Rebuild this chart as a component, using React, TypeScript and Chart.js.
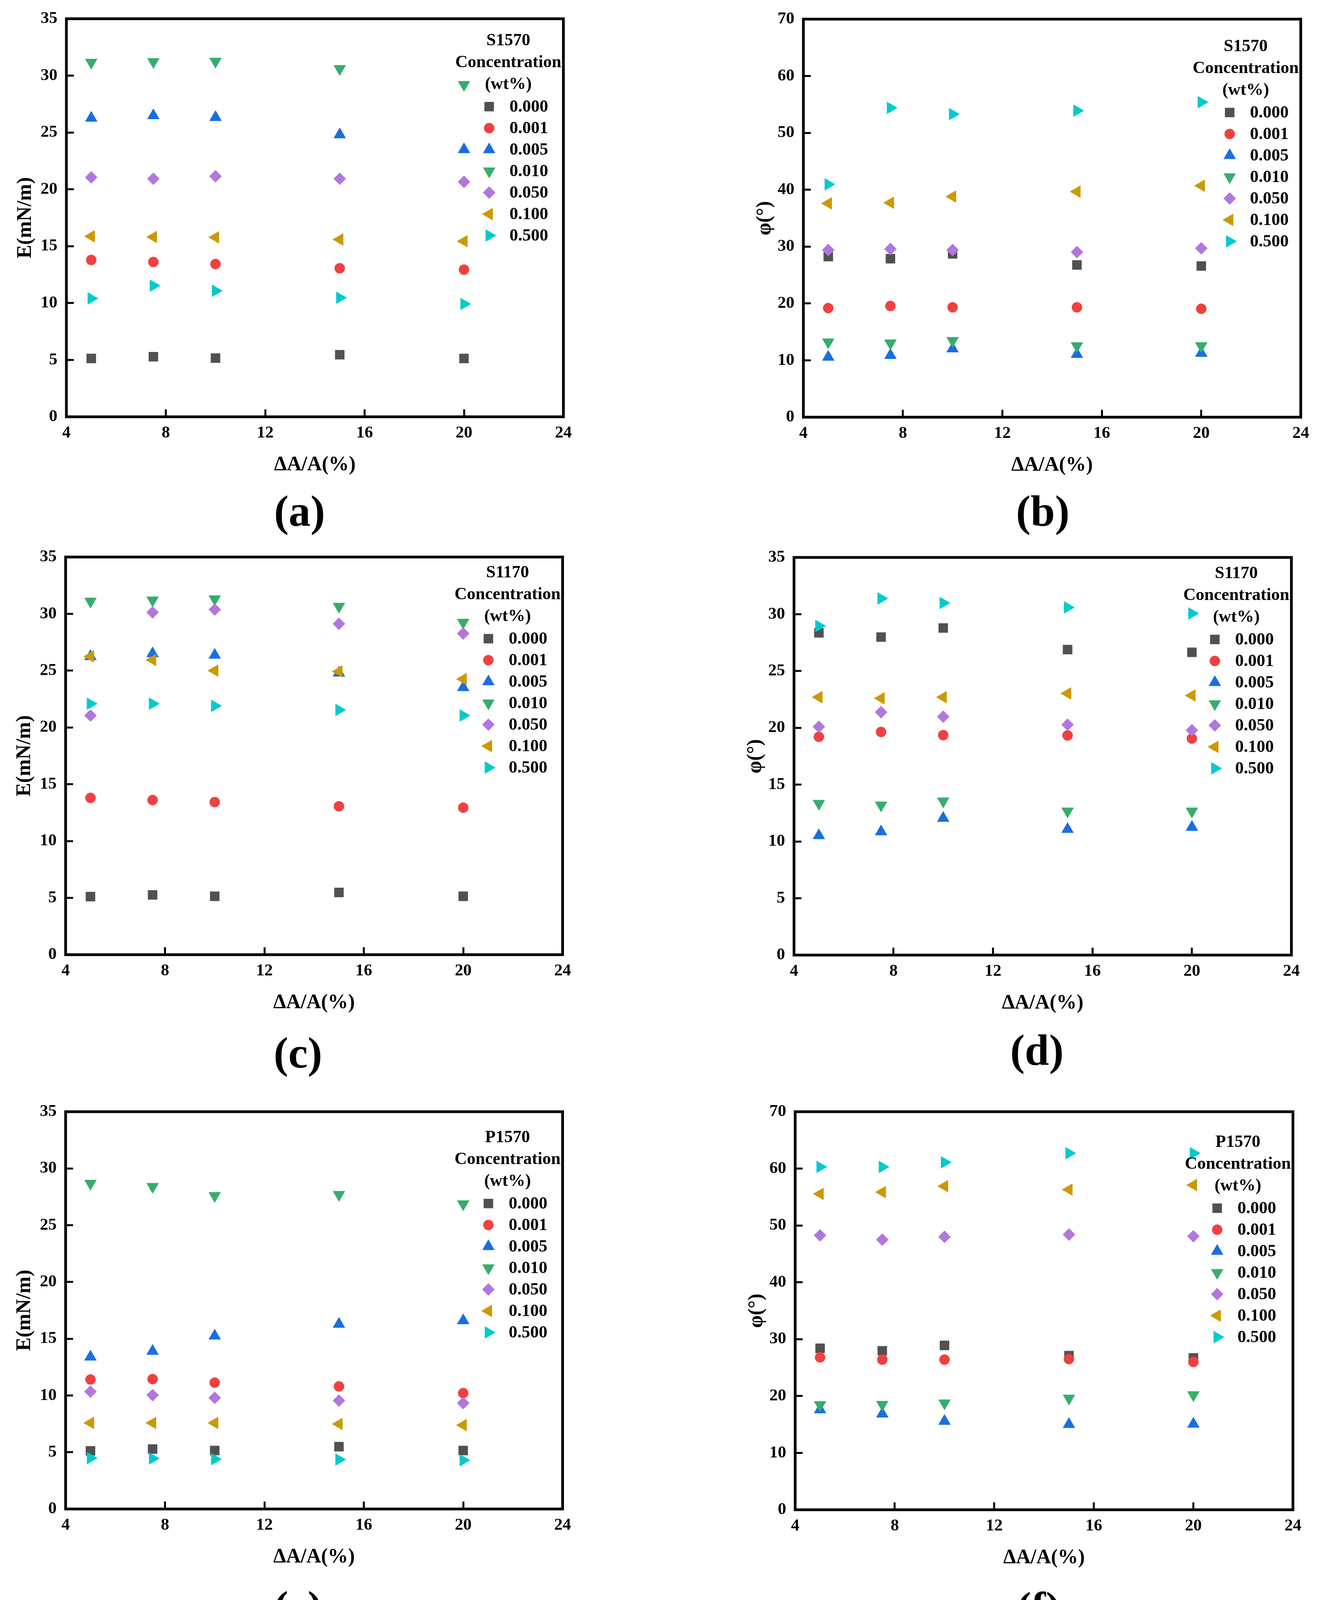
import React, { useEffect, useRef } from "react";
import Chart from "chart.js/auto";
import { drawPoint } from "chart.js/helpers";

// strain amplitude (x) shared by every panel
const strainX = [5, 7.5, 10, 15, 20];
const concLabels = ["0.000", "0.001", "0.005", "0.010", "0.050", "0.100", "0.500"];

// rows follow concLabels order
const s1570Modulus = [
  [5.13, 5.28, 5.16, 5.46, 5.13],
  [13.79, 13.61, 13.43, 13.06, 12.94],
  [26.27, 26.49, 26.33, 24.81, 23.5],
  [31.16, 31.22, 31.25, 30.6, 29.2],
  [21.05, 20.93, 21.15, 20.93, 20.66],
  [15.87, 15.81, 15.78, 15.59, 15.44],
  [10.41, 11.53, 11.08, 10.47, 9.92],
];
const s1570Phase = [
  [28.24, 27.87, 28.73, 26.77, 26.59],
  [19.19, 19.56, 19.32, 19.32, 19.07],
  [10.57, 10.88, 12.04, 11.06, 11.25],
  [13.2, 13.02, 13.45, 12.53, 12.53],
  [29.4, 29.58, 29.4, 29.03, 29.7],
  [37.6, 37.71, 38.8, 39.67, 40.7],
  [40.95, 54.4, 53.3, 53.9, 55.4],
];
const s1170Modulus = [
  [5.11, 5.26, 5.14, 5.48, 5.14],
  [13.8, 13.61, 13.43, 13.06, 12.94],
  [26.25, 26.5, 26.37, 24.8, 23.52],
  [31.1, 31.2, 31.3, 30.65, 29.24],
  [21.05, 30.13, 30.38, 29.12, 28.27],
  [26.25, 25.94, 25.0, 24.93, 24.26],
  [22.09, 22.09, 21.9, 21.54, 21.05],
];
const s1170Phase = [
  [28.36, 27.99, 28.79, 26.89, 26.65],
  [19.21, 19.64, 19.36, 19.33, 19.06],
  [10.52, 10.86, 12.05, 11.07, 11.26],
  [13.34, 13.19, 13.55, 12.66, 12.66],
  [20.1, 21.38, 20.98, 20.28, 19.79],
  [22.7, 22.6, 22.7, 23.03, 22.85],
  [28.97, 31.39, 30.99, 30.6, 30.07],
];
const p1570Modulus = [
  [5.12, 5.28, 5.15, 5.49, 5.15],
  [11.41, 11.44, 11.13, 10.8, 10.21],
  [13.4, 13.9, 15.25, 16.29, 16.6],
  [28.68, 28.4, 27.6, 27.7, 26.87],
  [10.34, 10.03, 9.79, 9.55, 9.33],
  [7.58, 7.58, 7.58, 7.49, 7.39],
  [4.48, 4.45, 4.39, 4.36, 4.29],
];
const p1570Phase = [
  [28.4, 27.96, 28.9, 27.1, 26.7],
  [26.8, 26.4, 26.4, 26.5, 26.0],
  [17.6, 16.86, 15.57, 15.02, 15.08],
  [18.45, 18.5, 18.76, 19.6, 20.2],
  [48.25, 47.5, 48.0, 48.4, 48.1],
  [55.55, 55.86, 56.9, 56.3, 57.1],
  [60.3, 60.3, 61.1, 62.7, 62.7],
];

const seriesColors = ["#515151", "#F14040", "#1A6FDF", "#37AD6B", "#B177DE", "#CC9900", "#00CBCC"];
const seriesMarkers = [
  { style: "rect", radius: 16.5, rotation: 0 },
  { style: "circle", radius: 13, rotation: 0 },
  { style: "triangle", radius: 17.5, rotation: 0 },
  { style: "triangle", radius: 17.5, rotation: 180 },
  { style: "rectRot", radius: 15.5, rotation: 0 },
  { style: "triangle", radius: 17.5, rotation: -90 },
  { style: "triangle", radius: 17.5, rotation: 90 },
];

const FONT = "'Liberation Serif', 'Times New Roman', serif";

interface PanelSpec {
  left: number;
  right: number;
  top: number;
  bottom: number;
  values: number[][];
  yMax: number;
  yStep: number;
  yTitle: string;
  yWidth: number;
  sample: string;
  legendRow0: number;
  legendDx: number;
  tag: string;
  tagX: number;
  tagY: number;
}

const panels: PanelSpec[] = [
  { left: 170, right: 1459, top: 48, bottom: 1067, values: s1570Modulus, yMax: 35, yStep: 5, yTitle: "E(mN/m)", yWidth: 136, sample: "S1570", legendRow0: 225, legendDx: 0, tag: "(a)", tagX: 767, tagY: 1308 },
  { left: 2057, right: 3347, top: 49, bottom: 1068, values: s1570Phase, yMax: 70, yStep: 10, yTitle: "φ(°)", yWidth: 130, sample: "S1570", legendRow0: 239, legendDx: 8, tag: "(b)", tagX: 2670, tagY: 1308 },
  { left: 168, right: 1457, top: 1426, bottom: 2444, values: s1170Modulus, yMax: 35, yStep: 5, yTitle: "E(mN/m)", yWidth: 136, sample: "S1170", legendRow0: 209, legendDx: 0, tag: "(c)", tagX: 763, tagY: 2695 },
  { left: 2033, right: 3323, top: 1427, bottom: 2445, values: s1170Phase, yMax: 35, yStep: 5, yTitle: "φ(°)", yWidth: 130, sample: "S1170", legendRow0: 210, legendDx: -6, tag: "(d)", tagX: 2655, tagY: 2688 },
  { left: 168, right: 1457, top: 2846, bottom: 3863, values: p1570Modulus, yMax: 35, yStep: 5, yTitle: "E(mN/m)", yWidth: 136, sample: "P1570", legendRow0: 235, legendDx: 0, tag: "(e)", tagX: 763, tagY: 4113 },
  { left: 2036, right: 3327, top: 2846, bottom: 3865, values: p1570Phase, yMax: 70, yStep: 10, yTitle: "φ(°)", yWidth: 130, sample: "P1570", legendRow0: 247, legendDx: -4, tag: "(f)", tagX: 2659, tagY: 4115 },
];

// top padding has to cover the y tick label overflow (half label + tick padding)
const PAD_L = 20;
const PAD_T = 75;
const PAD_R = 40;
const PAD_B = 20;
const X_AXIS_H = 155;

// frame around the plot
const framePlugin = {
  id: "frameBox",
  afterDatasetsDraw(chart: any) {
    const { ctx, chartArea } = chart;
    ctx.save();
    ctx.strokeStyle = "#000";
    ctx.lineWidth = 7;
    ctx.strokeRect(chartArea.left, chartArea.top, chartArea.right - chartArea.left, chartArea.bottom - chartArea.top);
    ctx.restore();
  },
};

// legend drawn inside the plot, top right
const legendPlugin = {
  id: "concLegend",
  afterDatasetsDraw(chart: any, _args: any, opts: any) {
    const { ctx, chartArea } = chart;
    const right = chartArea.right;
    const row0 = chartArea.top + opts.row0;
    ctx.save();
    ctx.fillStyle = "#000";
    ctx.font = `bold 44px ${FONT}`;
    ctx.textBaseline = "middle";
    ctx.textAlign = "center";
    [opts.sample, "Concentration", "(wt%)"].forEach((line: string, k: number) => {
      ctx.fillText(line, right - 141, row0 - 168 + k * 56);
    });
    ctx.textAlign = "left";
    chart.data.datasets.forEach((ds: any, i: number) => {
      const y = row0 + i * 55;
      const m = seriesMarkers[i];
      ctx.fillStyle = seriesColors[i];
      ctx.strokeStyle = seriesColors[i];
      ctx.lineWidth = 1;
      drawPoint(ctx, { pointStyle: m.style as any, radius: m.radius, rotation: m.rotation, borderWidth: 1 }, right - 190 + opts.dx, y);
      ctx.fillStyle = "#000";
      ctx.fillText(ds.label, right - 138 + opts.dx, y + 2);
    });
    ctx.restore();
  },
};

const Panel: React.FC<{ spec: PanelSpec }> = ({ spec }) => {
  const canvasRef = useRef<HTMLCanvasElement | null>(null);
  const chartRef = useRef<Chart | null>(null);

  const cx = spec.left - PAD_L - spec.yWidth;
  const cy = spec.top - PAD_T;
  const cw = spec.right + PAD_R - cx;
  const ch = spec.bottom + X_AXIS_H + PAD_B - cy;

  useEffect(() => {
    const ctx = canvasRef.current?.getContext("2d");
    if (!ctx) return;
    if (chartRef.current) chartRef.current.destroy();

    const tickFont = { family: FONT, weight: "bold" as const, size: 43 };
    const titleFont = { family: FONT, weight: "bold" as const, size: 52 };

    chartRef.current = new Chart(ctx, {
      type: "scatter",
      data: {
        datasets: spec.values.map((row, i) => ({
          label: concLabels[i],
          data: strainX.map((x, j) => ({ x, y: row[j] })),
          pointStyle: seriesMarkers[i].style as any,
          pointRadius: seriesMarkers[i].radius,
          pointHoverRadius: seriesMarkers[i].radius,
          pointRotation: seriesMarkers[i].rotation,
          pointBackgroundColor: seriesColors[i],
          pointBorderColor: seriesColors[i],
          pointBorderWidth: 1,
          showLine: false,
          order: 10 - i, // later concentrations sit on top
        })),
      },
      options: {
        animation: false,
        responsive: false,
        devicePixelRatio: 1,
        layout: { padding: { left: PAD_L, top: PAD_T, right: PAD_R, bottom: PAD_B } },
        plugins: {
          legend: { display: false },
          tooltip: { enabled: false },
          concLegend: { sample: spec.sample, row0: spec.legendRow0, dx: spec.legendDx },
        } as any,
        scales: {
          x: {
            type: "linear",
            min: 4,
            max: 24,
            ticks: { stepSize: 4, padding: 35, color: "#000", font: tickFont },
            grid: { drawOnChartArea: false, drawTicks: true, tickLength: -19, tickWidth: 5, tickColor: "#000" },
            border: { display: false },
            title: { display: true, text: "ΔA/A(%)", color: "#000", font: titleFont, padding: 0 },
            afterFit: (scale: any) => {
              scale.height = X_AXIS_H;
            },
          },
          y: {
            type: "linear",
            min: 0,
            max: spec.yMax,
            ticks: { stepSize: spec.yStep, padding: 42, color: "#000", font: tickFont },
            grid: { drawOnChartArea: false, drawTicks: true, tickLength: -19, tickWidth: 5, tickColor: "#000" },
            border: { display: false },
            title: { display: true, text: spec.yTitle, color: "#000", font: titleFont, padding: 0 },
            afterFit: (scale: any) => {
              scale.width = spec.yWidth;
            },
          },
        },
      },
      plugins: [framePlugin, legendPlugin],
    });

    return () => {
      if (chartRef.current) {
        chartRef.current.destroy();
        chartRef.current = null;
      }
    };
  }, [spec]);

  return (
    <>
      <canvas
        ref={canvasRef}
        width={cw}
        height={ch}
        style={{ position: "absolute", left: cx, top: cy, width: cw, height: ch }}
      />
      <div
        style={{
          position: "absolute",
          left: spec.tagX,
          top: spec.tagY,
          transform: "translate(-50%, -50%)",
          fontFamily: FONT,
          fontWeight: "bold",
          fontSize: 112,
          lineHeight: 1,
          color: "#000",
          whiteSpace: "nowrap",
        }}
      >
        {spec.tag}
      </div>
    </>
  );
};

const App: React.FC = () => {
  return (
    <div
      style={{
        position: "absolute",
        left: 0,
        top: 0,
        width: 3390,
        height: 4204,
        background: "#fff",
        overflow: "hidden",
      }}
    >
      {panels.map((p) => (
        <Panel key={p.tag} spec={p} />
      ))}
    </div>
  );
};

export default App;
